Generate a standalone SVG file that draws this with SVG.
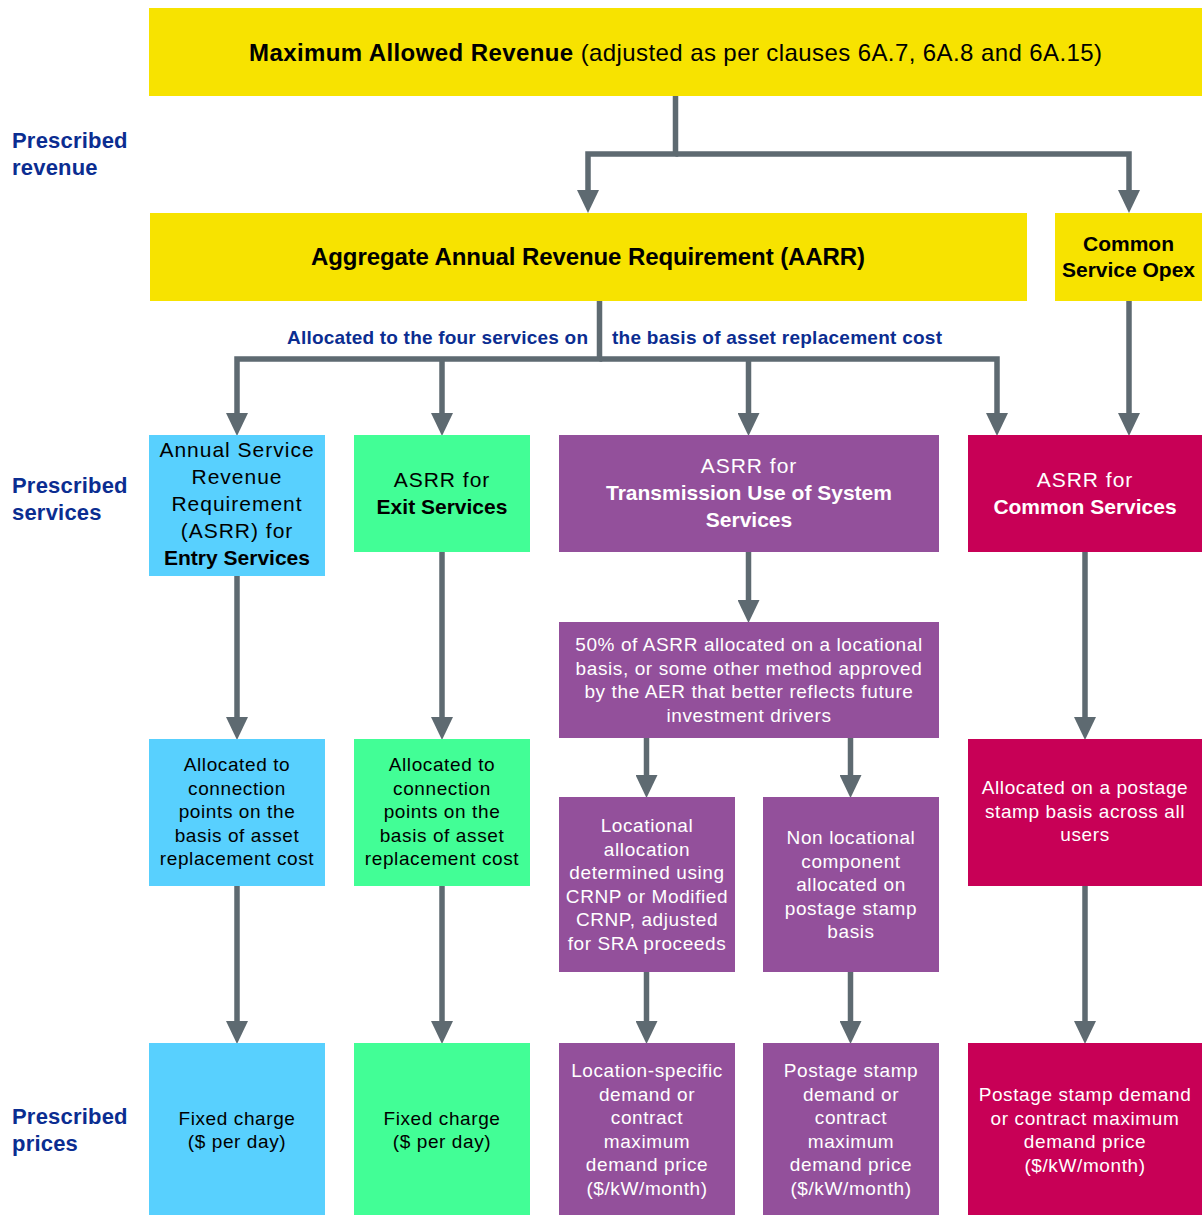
<svg xmlns="http://www.w3.org/2000/svg" width="1202" height="1215" viewBox="0 0 1202 1215">
  <defs>
    <style>
      text { font-family: "Liberation Sans", Arial, Helvetica, sans-serif; text-anchor: middle; }
      .yellow { fill: #f7e300; }
      .blue { fill: #58d0fe; }
      .green { fill: #42fe96; }
      .purple { fill: #93509b; }
      .red { fill: #c80056; }
      .big { font-size: 21px; letter-spacing: 1px; }
      .small { font-size: 19px; letter-spacing: 0.6px; }
      .b { font-weight: bold; letter-spacing: 0px; }
      .dark { fill: #000000; }
      .light { fill: #ffffff; }
      .side { font-size: 22px; font-weight: bold; fill: #0b2d91; text-anchor: start; letter-spacing: 0.2px; }
      .note { font-size: 19px; font-weight: bold; fill: #0b2d91; text-anchor: start; }
      .conn { fill: none; stroke: #5e6a71; stroke-width: 5.5; stroke-linejoin: miter; marker-end: url(#arrow); }
      .plain { fill: none; stroke: #5e6a71; stroke-width: 5.5; }
    </style>
    <marker id="arrow" viewBox="0 0 23 22" refX="0" refY="11" markerWidth="23" markerHeight="22" markerUnits="userSpaceOnUse" orient="auto">
      <path d="M0,0 L23,11 L0,22 Z" fill="#5e6a71"/>
    </marker>
  </defs>

  <rect width="1202" height="1215" fill="#ffffff"/>

  <!-- row labels -->
  <g id="row-labels">
    <text class="side" x="12" y="148">Prescribed</text>
    <text class="side" x="12" y="175">revenue</text>
    <text class="side" x="12" y="493">Prescribed</text>
    <text class="side" x="12" y="520">services</text>
    <text class="side" x="12" y="1124">Prescribed</text>
    <text class="side" x="12" y="1151">prices</text>
  </g>

  <!-- connectors -->
  <g id="connectors">
    <path class="conn" d="M675.5,96 V154 H588 V190"/>
    <path class="conn" d="M675.5,154 H1129 V190"/>
    <path class="conn" d="M599.5,300 V359 H237 V413"/>
    <path class="conn" d="M599.5,359 H997 V413"/>
    <path class="conn" d="M442,359 V413"/>
    <path class="conn" d="M748.5,359 V413"/>
    <path class="conn" d="M1129,300 V413"/>
    <path class="conn" d="M237,576 V717"/>
    <path class="conn" d="M237,886 V1021"/>
    <path class="conn" d="M442,552 V717"/>
    <path class="conn" d="M442,886 V1021"/>
    <path class="conn" d="M748.5,552 V600"/>
    <path class="conn" d="M646.5,738 V775"/>
    <path class="conn" d="M850.5,738 V775"/>
    <path class="conn" d="M646.5,972 V1021"/>
    <path class="conn" d="M850.5,972 V1021"/>
    <path class="conn" d="M1085,552 V717"/>
    <path class="conn" d="M1085,886 V1021"/>
  </g>

  <g id="allocation-note">
    <text class="note" x="287" y="344" textLength="301">Allocated to the four services on</text>
    <text class="note" x="612" y="344" textLength="330">the basis of asset replacement cost</text>
  </g>

  <!-- prescribed revenue -->
  <g id="max-allowed-revenue">
    <rect class="yellow" x="149" y="8" width="1053" height="88"/>
    <text class="dark" x="675.5" y="61" font-size="24" textLength="853"><tspan font-weight="bold">Maximum Allowed Revenue</tspan> (adjusted as per clauses 6A.7, 6A.8 and 6A.15)</text>
  </g>
  <g id="aarr">
    <rect class="yellow" x="150" y="213" width="877" height="88"/>
    <text class="dark" x="588" y="265" font-size="24" font-weight="bold" textLength="554">Aggregate Annual Revenue Requirement (AARR)</text>
  </g>
  <g id="common-service-opex">
    <rect class="yellow" x="1055" y="213" width="147" height="88"/>
    <text class="big b dark" x="1128.5" y="251">Common</text>
    <text class="big b dark" x="1128.5" y="277">Service Opex</text>
  </g>

  <!-- prescribed services -->
  <g id="asrr-entry">
    <rect class="blue" x="149" y="435" width="176" height="141"/>
    <text class="big dark" x="237" y="457">Annual Service</text>
    <text class="big dark" x="237" y="484">Revenue</text>
    <text class="big dark" x="237" y="511">Requirement</text>
    <text class="big dark" x="237" y="538">(ASRR) for</text>
    <text class="big b dark" x="237" y="565">Entry Services</text>
  </g>
  <g id="asrr-exit">
    <rect class="green" x="354" y="435" width="176" height="117"/>
    <text class="big dark" x="442" y="487">ASRR for</text>
    <text class="big b dark" x="442" y="514">Exit Services</text>
  </g>
  <g id="asrr-tuos">
    <rect class="purple" x="559" y="435" width="380" height="117"/>
    <text class="big light" x="749" y="473">ASRR for</text>
    <text class="big b light" x="749" y="500">Transmission Use of System</text>
    <text class="big b light" x="749" y="527">Services</text>
  </g>
  <g id="asrr-common">
    <rect class="red" x="968" y="435" width="234" height="117"/>
    <text class="big light" x="1085" y="487">ASRR for</text>
    <text class="big b light" x="1085" y="514">Common Services</text>
  </g>

  <g id="tuos-split">
    <rect class="purple" x="559" y="622" width="380" height="116"/>
    <text class="small light" x="749" y="651">50% of ASRR allocated on a locational</text>
    <text class="small light" x="749" y="675">basis, or some other method approved</text>
    <text class="small light" x="749" y="698">by the AER that better reflects future</text>
    <text class="small light" x="749" y="722">investment drivers</text>
  </g>

  <g id="entry-allocation">
    <rect class="blue" x="149" y="739" width="176" height="147"/>
    <text class="small dark" x="237" y="771">Allocated to</text>
    <text class="small dark" x="237" y="794.5">connection</text>
    <text class="small dark" x="237" y="818">points on the</text>
    <text class="small dark" x="237" y="841.5">basis of asset</text>
    <text class="small dark" x="237" y="865">replacement cost</text>
  </g>
  <g id="exit-allocation">
    <rect class="green" x="354" y="739" width="176" height="147"/>
    <text class="small dark" x="442" y="771">Allocated to</text>
    <text class="small dark" x="442" y="794.5">connection</text>
    <text class="small dark" x="442" y="818">points on the</text>
    <text class="small dark" x="442" y="841.5">basis of asset</text>
    <text class="small dark" x="442" y="865">replacement cost</text>
  </g>
  <g id="locational-allocation">
    <rect class="purple" x="559" y="797" width="176" height="175"/>
    <text class="small light" x="647" y="832">Locational</text>
    <text class="small light" x="647" y="855.5">allocation</text>
    <text class="small light" x="647" y="879">determined using</text>
    <text class="small light" x="647" y="902.5">CRNP or Modified</text>
    <text class="small light" x="647" y="926">CRNP, adjusted</text>
    <text class="small light" x="647" y="949.5">for SRA proceeds</text>
  </g>
  <g id="non-locational">
    <rect class="purple" x="763" y="797" width="176" height="175"/>
    <text class="small light" x="851" y="844">Non locational</text>
    <text class="small light" x="851" y="867.5">component</text>
    <text class="small light" x="851" y="891">allocated on</text>
    <text class="small light" x="851" y="914.5">postage stamp</text>
    <text class="small light" x="851" y="938">basis</text>
  </g>
  <g id="common-allocation">
    <rect class="red" x="968" y="739" width="234" height="147"/>
    <text class="small light" x="1085" y="794">Allocated on a postage</text>
    <text class="small light" x="1085" y="817.5">stamp basis across all</text>
    <text class="small light" x="1085" y="841">users</text>
  </g>

  <!-- prescribed prices -->
  <g id="entry-price">
    <rect class="blue" x="149" y="1043" width="176" height="172"/>
    <text class="small dark" x="237" y="1125">Fixed charge</text>
    <text class="small dark" x="237" y="1148">($ per day)</text>
  </g>
  <g id="exit-price">
    <rect class="green" x="354" y="1043" width="176" height="172"/>
    <text class="small dark" x="442" y="1125">Fixed charge</text>
    <text class="small dark" x="442" y="1148">($ per day)</text>
  </g>
  <g id="locational-price">
    <rect class="purple" x="559" y="1043" width="176" height="172"/>
    <text class="small light" x="647" y="1077">Location-specific</text>
    <text class="small light" x="647" y="1100.5">demand or</text>
    <text class="small light" x="647" y="1124">contract</text>
    <text class="small light" x="647" y="1147.5">maximum</text>
    <text class="small light" x="647" y="1171">demand price</text>
    <text class="small light" x="647" y="1194.5">($/kW/month)</text>
  </g>
  <g id="postage-price">
    <rect class="purple" x="763" y="1043" width="176" height="172"/>
    <text class="small light" x="851" y="1077">Postage stamp</text>
    <text class="small light" x="851" y="1100.5">demand or</text>
    <text class="small light" x="851" y="1124">contract</text>
    <text class="small light" x="851" y="1147.5">maximum</text>
    <text class="small light" x="851" y="1171">demand price</text>
    <text class="small light" x="851" y="1194.5">($/kW/month)</text>
  </g>
  <g id="common-price">
    <rect class="red" x="968" y="1043" width="234" height="172"/>
    <text class="small light" x="1085" y="1101">Postage stamp demand</text>
    <text class="small light" x="1085" y="1124.5">or contract maximum</text>
    <text class="small light" x="1085" y="1148">demand price</text>
    <text class="small light" x="1085" y="1171.5">($/kW/month)</text>
  </g>
</svg>
